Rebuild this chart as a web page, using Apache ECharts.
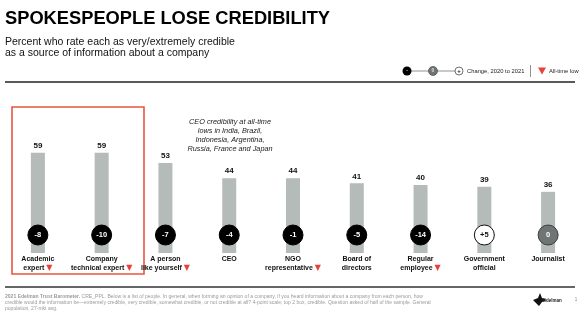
<!DOCTYPE html>
<html>
<head>
<meta charset="utf-8">
<script src="https://cdn.jsdelivr.net/npm/echarts@6/dist/echarts.min.js"></script>
<style>
  html, body { margin: 0; padding: 0; background: #fff; }
  #chart { width: 580px; height: 330px; }
</style>
</head>
<body>
<div id="chart"></div>
<script>
// Spokespeople credibility, 2021, with change from 2020
var categories = [
  'Academic\nexpert', 'Company\ntechnical expert', 'A person\nlike yourself', 'CEO',
  'NGO\nrepresentative', 'Board of\ndirectors', 'Regular\nemployee', 'Government\nofficial', 'Journalist'
];
var credible = [59, 59, 53, 44, 44, 41, 40, 39, 36];
var change = [-8, -10, -7, -4, -1, -5, -14, 5, 0];
var allTimeLow = [true, true, true, false, true, false, true, false, false];

var FONT = 'Liberation Sans, Arial, sans-serif';

function markerStyle(v) {
  if (v > 0) return { fill: '#ffffff', stroke: '#111111', text: '#111111' };
  if (v === 0) return { fill: '#6f7574', stroke: '#3a3e3d', text: '#ffffff' };
  return { fill: '#000000', stroke: '#000000', text: '#ffffff' };
}

var scatterData = change.map(function (v, i) {
  var s = markerStyle(v);
  return {
    value: [i, 0],
    change: v,
    itemStyle: { color: s.fill, borderColor: s.stroke, borderWidth: 1, opacity: 1 },
    label: { color: s.text }
  };
});

var chart = echarts.init(document.getElementById('chart'), null, { renderer: 'canvas' });

chart.setOption({
  backgroundColor: '#ffffff',
  animation: false,
  grid: { left: 6, width: 576, top: 100, height: 153 },
  xAxis: {
    type: 'category',
    data: categories,
    axisLine: { show: false },
    axisTick: { show: false },
    axisLabel: {
      interval: 0,
      margin: 2,
      fontFamily: FONT,
      fontSize: 7,
      fontWeight: 'bold',
      color: '#111',
      lineHeight: 8.5,
      formatter: function (val, i) {
        return allTimeLow[i] ? val + ' {tri|▼}' : val;
      },
      rich: {
        tri: { color: '#e8403a', fontSize: 8, fontFamily: 'DejaVu Sans', lineHeight: 8.5 }
      }
    }
  },
  yAxis: { type: 'value', min: 0, max: 90, show: false, splitLine: { show: false } },
  series: [
    {
      type: 'bar',
      data: credible,
      barWidth: 14,
      itemStyle: { color: '#b5bbb9' },
      label: {
        show: true,
        position: 'top',
        distance: 3,
        fontFamily: FONT,
        fontSize: 8,
        fontWeight: 'bold',
        color: '#111'
      }
    },
    {
      type: 'scatter',
      data: scatterData,
      symbol: 'circle',
      symbolSize: 20,
      symbolOffset: [0, -18],
      z: 5,
      itemStyle: { opacity: 1 },
      label: {
        show: true,
        position: 'inside',
        fontFamily: FONT,
        fontSize: 7.5,
        fontWeight: 'bold',
        formatter: function (p) {
          var v = p.data.change;
          return v > 0 ? '+' + v : String(v);
        }
      }
    }
  ],
  graphic: [
    { type: 'text', left: 5, top: 10, style: { text: 'SPOKESPEOPLE LOSE CREDIBILITY', font: 'bold 18.3px ' + FONT, fill: '#000' } },
    { type: 'text', left: 5, top: 36, style: { text: 'Percent who rate each as very/extremely credible\nas a source of information about a company', font: '10.5px ' + FONT, fill: '#111', lineHeight: 11.5 } },
    // legend
    { type: 'line', shape: { x1: 411, y1: 71, x2: 456, y2: 71 }, style: { stroke: '#777', lineWidth: 0.8 } },
    { type: 'circle', shape: { cx: 407, cy: 71, r: 4.5 }, style: { fill: '#000' } },
    { type: 'text', x: 407, y: 71, style: { text: '-', font: 'bold 5px ' + FONT, fill: '#fff', align: 'center', verticalAlign: 'middle' } },
    { type: 'circle', shape: { cx: 433, cy: 71, r: 4.5 }, style: { fill: '#6f7574', stroke: '#3a3e3d', lineWidth: 0.6 } },
    { type: 'text', x: 433, y: 71, style: { text: '0', font: 'bold 5px ' + FONT, fill: '#ddd', align: 'center', verticalAlign: 'middle' } },
    { type: 'circle', shape: { cx: 459, cy: 71, r: 4 }, style: { fill: '#fff', stroke: '#333', lineWidth: 0.7 } },
    { type: 'text', x: 459, y: 71, style: { text: '+', font: 'bold 6px ' + FONT, fill: '#111', align: 'center', verticalAlign: 'middle' } },
    { type: 'text', x: 467, y: 71, style: { text: 'Change, 2020 to 2021', font: '5.8px ' + FONT, fill: '#222', verticalAlign: 'middle' } },
    { type: 'line', shape: { x1: 530.5, y1: 65, x2: 530.5, y2: 77 }, style: { stroke: '#777', lineWidth: 0.8 } },
    { type: 'polygon', shape: { points: [[538, 67.5], [546, 67.5], [542, 74.5]] }, style: { fill: '#e8403a' } },
    { type: 'text', x: 549, y: 71, style: { text: 'All-time low', font: '5.8px ' + FONT, fill: '#222', verticalAlign: 'middle' } },
    { type: 'line', shape: { x1: 5, y1: 82, x2: 575, y2: 82 }, style: { stroke: '#222', lineWidth: 1.6 } },
    // highlight box around the expert categories
    { type: 'rect', shape: { x: 12, y: 107, width: 132, height: 167 }, style: { fill: 'none', stroke: '#e8553f', lineWidth: 1.6 } },
    // note
    { type: 'text', x: 230, y: 117, style: { text: 'CEO credibility at all-time\nlows in India, Brazil,\nIndonesia, Argentina,\nRussia, France and Japan', font: 'italic 7.3px ' + FONT, fill: '#222', align: 'center', lineHeight: 9 } },
    // footer
    { type: 'line', shape: { x1: 5, y1: 287, x2: 575, y2: 287 }, style: { stroke: '#333', lineWidth: 1.3 } },
    { type: 'text', x: 5, y: 294, style: {
        rich: {
          b: { font: 'bold 5.05px ' + FONT, fill: '#9a9a9a', lineHeight: 6 },
          n: { font: '5.05px ' + FONT, fill: '#9a9a9a', lineHeight: 6 }
        },
        text: '{b|2021 Edelman Trust Barometer.}{n| CRE_PPL. Below is a list of people. In general, when forming an opinion of a company, if you heard information about a company from each person, how}\n' +
              '{n|credible would the information be—extremely credible, very credible, somewhat credible, or not credible at all? 4-point scale; top 2 box, credible. Question asked of half of the sample. General}\n' +
              '{n|population, 27-mkt avg.}'
      } },
    { type: 'polygon', shape: { points: [[533, 300], [538, 298], [540, 293], [542, 298], [547, 300], [542, 302], [539, 306]] }, style: { fill: '#111' } },
    { type: 'text', x: 543, y: 300.5, style: { text: 'Edelman', font: 'bold 4.5px ' + FONT, fill: '#222', verticalAlign: 'middle' } },
    { type: 'text', x: 576, y: 300, style: { text: '1', font: '4.5px ' + FONT, fill: '#888', align: 'center', verticalAlign: 'middle' } }
  ]
});
</script>
</body>
</html>
